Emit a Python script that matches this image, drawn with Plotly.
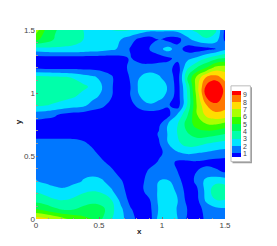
import plotly.graph_objects as go

x_nodes = [0, .075, .15, .225, .3, .375, .45, .525, .6, .675, .75, .825, .9, .975, 1.05, 1.125, 1.2, 1.275, 1.35, 1.425, 1.5]
y_nodes = [1.5, 1.425, 1.35, 1.275, 1.2, 1.125, 1.05, .975, .9, .825, .75, .675, .6, .525, .45, .375, .3, .225, .15, .075, 0]

r00 = [6.5,4.9,4.1,3.6,3.2,3.0,2.9,2.8,3.0,3.1,3.0,2.7,2.3,2.2,2.2,2.4,2.8,3.2,3.5,3.2,0.8]
r01 = [5.2,4.6,3.9,3.6,3.3,3.0,2.7,2.5,2.3,2.0,1.4,0.7,0.4,1.0,0.6,0.6,1.7,2.4,2.9,2.5,0.8]
r02 = [2.6,2.7,2.8,2.8,2.8,2.7,2.6,2.4,2.2,1.8,0.9,0.3,1.0,1.7,2.4,1.4,0.6,0.5,0.7,1.0,1.7]
r03 = [0.5,0.5,0.5,0.5,0.5,0.5,0.5,0.5,0.5,0.7,1.1,0.4,0.3,0.5,0.8,1.3,1.7,2.2,3.0,3.7,4.1]
r04 = [0.8,.7,.7,.7,.7,.7,.7,0.6,.6,0.5,1.3,1.6,1.5,1.6,1.4,0.5,2.8,4.0,5.0,6.4,6.5]
r05 = [3.3,3.3,3.2,3.1,2.9,2.5,2.2,1.7,1.1,0.4,1.1,2.0,2.5,2.1,1.6,0.5,3.9,6.2,8.0,8.4,7.6]
r06 = [3.8,3.7,3.7,3.6,3.5,3.2,2.8,2.0,1.1,.3,1.0,2.3,2.8,2.6,1.9,.5,3.2,6.5,9.2,10.2,8.5]
r07 = [3.6,3.6,3.5,3.3,3.1,2.7,2.3,1.8,1.05,.3,1.0,2.0,2.7,2.4,1.7,.5,3.0,6.2,9.1,10.1,8.5]
r08 = [3.1,3.0,2.8,2.6,2.4,2.2,1.6,1.2,0.6,0.3,0.6,1.4,1.8,1.5,1.1,.5,3.1,6.0,7.9,8.6,8.3]
r09 = [1.4,1.3,1.1,0.7,0.5,0.4,0.3,.3,0.3,.3,.3,0.3,0.4,0.5,0.7,2.2,3.9,5.9,7.2,7.7,7.6]
r10 = [0.6,.5,.5,.5,0.5,0.4,.4,.4,0.3,.3,.3,.3,.3,0.8,2.1,3.0,4.4,5.4,5.9,6.0,5.6]
r11 = [0.7,0.7,0.7,0.7,.65,.55,0.5,.4,0.3,.3,0.3,0.3,0.4,1.1,2.1,3.05,3.9,4.4,4.5,4.3,4.0]
r12 = [1.3,1.3,1.3,1.3,1.3,1.15,0.8,0.6,0.4,0.3,.3,0.3,0.4,.9,2.0,2.8,3.4,3.4,3.05,2.8,2.6]
r13 = [1.55,1.55,1.55,1.55,1.55,1.4,1.2,0.7,.5,0.4,0.3,0.3,0.4,.8,1.3,1.9,2.2,2.05,1.9,1.7,1.6]
r14 = [1.7,1.7,1.7,1.7,1.7,1.65,1.5,1.15,0.7,0.4,0.3,0.3,0.6,1.1,1.4,.8,.7,.85,.7,0.6,0.5]
r15 = [1.8,1.75,1.7,1.7,1.75,1.8,1.75,1.6,1.2,.6,.3,0.4,1.2,1.5,1.5,1.0,0.4,1.0,1.4,1.2,0.9]
r16 = [2.05,1.8,1.6,1.55,1.75,2.05,2.25,2.1,1.6,1.1,0.4,0.6,1.5,2.0,2.1,1.3,0.5,1.2,2.3,2.7,2.6]
r17 = [2.9,2.6,2.3,2.2,2.5,2.8,2.95,2.8,2.1,1.3,0.6,.65,1.5,2.1,2.7,1.7,0.6,.8,2.3,3.7,3.7]
r18 = [3.6,3.4,3.1,3.0,3.2,3.5,3.7,3.5,3.0,1.7,.7,0.5,0.9,2.2,2.9,2.0,.7,.7,2.2,2.95,2.95]
r19 = [5.1,4.7,4.2,3.9,4.0,4.3,4.5,4.3,3.3,2.2,1.1,0.5,0.7,2.1,2.7,1.9,1.0,0.6,1.3,1.7,1.8]
r20 = [7.5,7.3,6.8,6.2,5.7,5.3,5.0,4.0,3.05,2.3,1.4,.6,0.5,2.4,2.6,2.0,.9,0.6,1.15,1.5,1.6]
z_rows = [r00,r01,r02,r03,r04,r05,r06,r07,r08,r09,r10,r11,r12,r13,r14,r15,r16,r17,r18,r19,r20]

band_colors = ["#0000ff","#0077ff","#00e5ff","#00ffaa","#00ff55","#33ff00","#aaff00","#ffdd00","#ff7700","#ff0000"]
level_ticks = [1,2,3,4,5,6,7,8,9]
x_ticks = [0,.5,1,1.5]
x_tick_text = ["0","0.5","1","1.5"]

# figure sits 8px inside the page (default body margin)
OFF = 8
W,H = 277-OFF,246-OFF
L,R,T,B = 36-OFF,225.5-OFF,29.5-OFF,219-OFF
pw,ph = R-L,B-T
colorscale = [[i/9,c] for i,c in enumerate(band_colors)]

def px(v): return (v-OFF-L)/pw
def py(v): return (B-(v-OFF))/ph

fig = go.Figure(go.Contour(
    x=x_nodes,y=y_nodes,z=z_rows,
    zmin=.5,zmax=9.5,colorscale=colorscale,
    contours=dict(coloring="fill",start=1,end=9,size=1,showlines=False),
    line=dict(width=0,smoothing=1.3),
    hoverinfo="skip",
    colorbar=dict(
        thicknessmode="pixels",thickness=9,lenmode="pixels",len=66,
        x=px(233),xanchor="left",xpad=0,y=py(124),yanchor="middle",ypad=0,
        outlinewidth=0,borderwidth=0,
        tickmode="array",tickvals=level_ticks,ticktext=[str(v) for v in level_ticks],
        ticks="",ticklabelposition="outside",
        tickfont=dict(family="Liberation Sans",size=7,color="#444"),
    ),
))
axis = dict(range=[0,1.5],tickmode="array",tickvals=x_ticks,ticktext=x_tick_text,
            ticks="inside",ticklen=2,tickcolor="#777",tickwidth=1,automargin=False,
            tickfont=dict(family="Liberation Sans",size=8,color="#444"),
            showgrid=False,zeroline=False,showline=False,
            minor=dict(ticks="inside",ticklen=1.5,tickcolor="#999",dtick=.1,showgrid=False))
title_font = dict(family="Liberation Sans",size=8,color="#222")
fig.update_layout(
    width=W,height=H,margin=dict(l=L,r=W-R,t=T,b=H-B,pad=0,autoexpand=False),
    paper_bgcolor="white",plot_bgcolor="white",showlegend=False,
    xaxis=axis,
    yaxis=axis,
    annotations=[
        dict(text="<b>x</b>",xref="paper",yref="paper",x=px(140),y=py(232),xanchor="center",yanchor="middle",
             showarrow=False,font=title_font,xshift=0,yshift=0,borderpad=0,borderwidth=0),
        dict(text="<b>y</b>",xref="paper",yref="paper",x=px(18),y=py(122),xanchor="center",yanchor="middle",
             showarrow=False,textangle=-90,font=title_font,borderpad=0,borderwidth=0),
    ],
    shapes=[
        dict(type="rect",xref="paper",yref="paper",x0=px(233),x1=px(252.5),y0=py(163),y1=py(87),
             fillcolor="#999",line_width=0),
        dict(type="rect",xref="paper",yref="paper",x0=px(231.5),x1=px(251),y0=py(161.5),y1=py(85.5),
             fillcolor="white",line=dict(color="#bbb",width=1)),
    ],
)
fig.write_html("out.html")
